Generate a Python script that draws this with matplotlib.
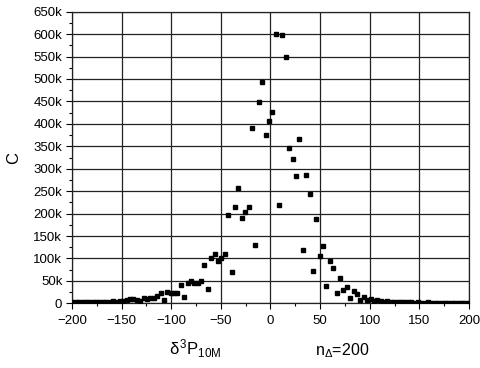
import matplotlib
matplotlib.use("Agg")
import matplotlib.pyplot as plt
from matplotlib.ticker import MultipleLocator, FuncFormatter

plt.rcParams["font.family"] = ["Liberation Sans", "DejaVu Sans"]
plt.rcParams["mathtext.fontset"] = "custom"
plt.rcParams["mathtext.rm"] = "Liberation Sans"
plt.rcParams["mathtext.it"] = "Liberation Sans"

# delta^3 P (10M) bins
delta = [
    -199.6, -196.2, -192.8, -189.4, -185.9, -182.5, -179.1, -175.7, -172.3, -168.9,
    -165.5, -162.1, -158.6, -155.2, -151.8, -148.4, -145.0, -141.6, -138.2, -134.7,
    -131.3, -127.9, -124.5, -121.1, -117.7, -114.3, -110.8, -107.4, -104.0, -100.6,
    -97.2, -93.8, -90.4, -86.9, -83.5, -80.1, -76.7, -73.3, -69.9, -66.5,
    -63.0, -59.6, -56.2, -52.8, -49.4, -46.0, -42.6, -39.1, -35.7, -32.3,
    -28.9, -25.5, -22.1, -18.7, -15.3, -11.8, -8.4, -5.0, -1.6, 1.8,
    5.2, 8.6, 12.1, 15.5, 18.9, 22.3, 25.7, 29.1, 32.5, 35.9,
    39.4, 42.8, 46.2, 49.6, 53.0, 56.4, 59.8, 63.2, 66.7, 70.1,
    73.5, 76.9, 80.3, 83.7, 87.1, 90.6, 94.0, 97.4, 100.8, 104.2,
    107.6, 111.0, 114.4, 117.9, 121.3, 124.7, 128.1, 131.5, 134.9, 138.3,
    141.8, 145.2, 148.6, 152.0, 155.4, 158.8, 162.2, 165.6, 169.1, 172.5,
    175.9, 179.3, 182.7, 186.1, 189.5, 193.0, 196.4, 199.8,
]

# counts, in thousands
counts_k = [
    2, 2, 2, 2.5, 2, 2.5, 3, 2.5, 3, 3.5,
    3, 4, 5, 4, 6, 5, 7, 9, 10, 8,
    4.5, 12, 9, 11, 12, 17, 22, 8, 26, 22,
    22, 22, 40, 13, 46, 50, 45, 46, 49, 85,
    31, 102, 109, 95, 102, 109, 196, 69, 215, 258,
    190, 203, 215, 390, 129, 448, 493, 375, 406, 427,
    600, 220, 599, 550, 346, 321, 283, 367, 119, 287,
    244, 72, 187, 106, 128, 39, 95, 78, 22, 56,
    30, 37, 12, 27, 21, 7, 14, 8, 10, 6,
    7, 5, 4, 4.5, 3, 3.5, 2.5, 2.5, 2, 2,
    2, 1.5, 2, 1.5, 1.5, 2, 1.5, 1.5, 1.5, 1.5,
    1.5, 1.5, 1.5, 1.5, 1.5, 1.5, 1.5, 1.5,
]
counts = [c * 1000 for c in counts_k]

fig = plt.figure(figsize=(4.81, 3.68), dpi=100)
ax = fig.add_axes([0.1497, 0.1758, 0.8253, 0.7924])

ax.plot(delta, counts, ls="none", marker="s", ms=3.2, color="black", zorder=3)

ax.set_xlim(-200, 200)
ax.set_ylim(0, 650000)
ax.xaxis.set_major_locator(MultipleLocator(50))
ax.xaxis.set_minor_locator(MultipleLocator(25))
ax.yaxis.set_major_locator(MultipleLocator(50000))
ax.yaxis.set_minor_locator(MultipleLocator(25000))
ax.yaxis.set_major_formatter(FuncFormatter(lambda v, p: "0" if v == 0 else f"{int(v / 1000)}k"))

ax.grid(True, which="major", color="#222222", lw=0.9)
ax.set_axisbelow(True)
for s in ax.spines.values():
    s.set_linewidth(0.9)
    s.set_color("#222222")

ax.tick_params(which="major", direction="out", length=4, width=0.8, pad=3, labelsize=9.5)
ax.tick_params(which="minor", direction="out", length=2.5, width=0.8)
ax.tick_params(axis="x", which="major", pad=4.5)

ax.set_ylabel("C", fontsize=12, labelpad=9)
fig.text(0.405, 0.035, r"$\delta^3$P$_{\mathrm{10M}}$", fontsize=12, ha="center", va="baseline")
fig.text(0.655, 0.035, r"n$_{\Delta}$=200", fontsize=11.5, ha="left", va="baseline")

fig.savefig("out.png", dpi=100)
